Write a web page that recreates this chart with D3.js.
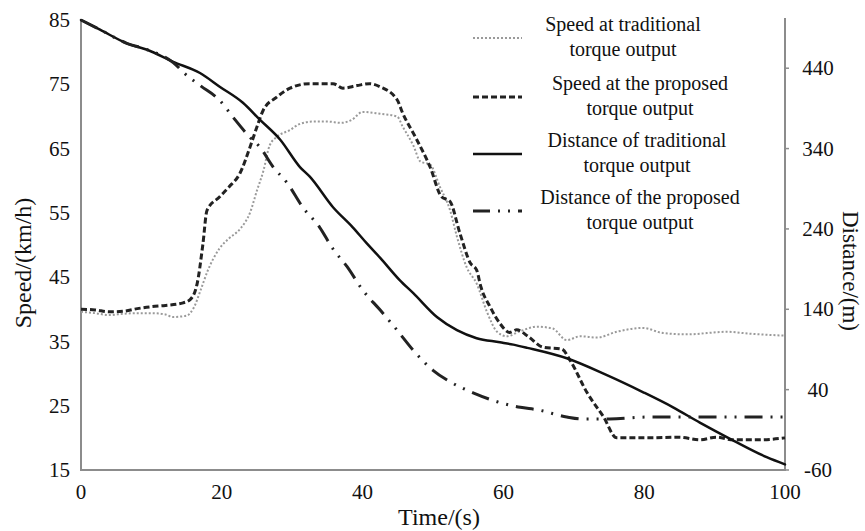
<!DOCTYPE html>
<html><head><meta charset="utf-8">
<script src="https://cdn.jsdelivr.net/npm/d3@7"></script>
<style>
html,body{margin:0;padding:0;background:#fff;}
svg text{fill:#111;}
</style></head>
<body><svg id="chart" width="865" height="531" font-family="'Liberation Serif', 'Times New Roman', Times, serif"></svg>
<script>
// ---- data ----
const timeTicks = [0, 20, 40, 60, 80, 100];
const speedTicks = [15, 25, 35, 45, 55, 65, 75, 85];
const distanceTicks = [-60, 40, 140, 240, 340, 440];

const speedTraditional = [[0,39.6],[2,39.4],[4,39.1],[6,39.3],[8,39.4],[10,39.4],[12,39.2],[13,38.8],[15,39.0],[16,40.2],[17,43],[18,46],[19.7,49.5],[21,51],[22.6,52.5],[24,55],[25,58.5],[25.9,61.5],[26.8,65.5],[27.8,66.8],[29.7,67.9],[31,68.8],[33,69.2],[35,69.2],[37,69.0],[38.5,69.5],[40,70.7],[42.5,70.4],[44.9,70.0],[45.7,68.4],[47.2,65.5],[48.2,63.0],[49.6,62.5],[51,59],[52.4,55.5],[53.4,51.3],[54.8,46.5],[56.2,44],[57.7,39.5],[59.1,36.5],[60.5,35.8],[62.4,36.6],[64.8,37.3],[67,37.0],[69,35.2],[70.9,35.8],[73.3,35.6],[76.1,36.5],[79.8,37.1],[82.7,36.3],[86,36.1],[91.8,36.5],[95,36.2],[100,35.9]];

const speedProposed = [[0,40],[2,39.9],[4,39.6],[6,39.7],[8,40.1],[10,40.4],[12,40.6],[14.5,41],[15.5,41.5],[16.5,44],[17.3,50],[17.9,55.4],[19.7,57.5],[21,59],[22.6,61.2],[24,65.2],[25,68.4],[25.9,71],[27.8,73],[29.7,74.4],[32.5,75.1],[35.8,75.1],[37.2,74.4],[39.2,74.8],[41,75.1],[42.5,74.6],[44.9,72.6],[45.7,70.5],[47.5,66.8],[49.6,62.1],[51.2,57.5],[52.4,56.8],[53.8,51.9],[55.3,47.2],[56.2,46.1],[56.8,43.5],[58.1,40.4],[59.5,37.8],[60.9,36.4],[61.9,36.8],[63.6,35.7],[65.6,34.1],[68.3,33.8],[69.5,32.0],[71.9,27],[74.2,23.3],[76.1,20],[80.8,20],[85,20.1],[87.9,19.7],[90.3,20.1],[92.6,19.7],[96.4,19.7],[100,20]];

const distanceTraditional = [[0,500],[2.7,488],[6.5,471],[9.4,463],[13.1,448],[16.9,434],[19.7,417],[23,397],[25.4,376],[28.3,351],[31.1,317],[32.5,305],[35.8,267],[38.6,242],[40.6,222],[42.5,204],[45.3,176],[47.2,160],[50.6,130],[53.4,114],[56.2,104],[59.5,99],[61.4,96],[63.4,92],[69,79],[74.7,58],[79.8,37],[84.1,18],[87.9,-1],[92.6,-23],[97.4,-44],[100,-53]];

const distanceProposed = [[0,500],[2.7,488],[6.5,471],[9.4,463],[13.1,447],[14.9,432],[17,418],[19.7,400],[21.6,379],[24,354],[25.4,342],[27.3,317],[29.3,297],[31.5,267],[33.9,242],[35.8,215],[37.8,193],[40,164],[42.5,139],[44.9,114],[47.2,89],[50,64],[52.8,48],[55.7,36],[59.1,25],[62.4,18],[64.8,15],[69,6],[71.3,3.5],[75.1,3.5],[80.8,6],[87.9,6],[100,6]];

const legendLabels = [
  ["Speed at traditional","torque output"],
  ["Speed at the proposed","torque output"],
  ["Distance of traditional","torque output"],
  ["Distance of the proposed","torque output"]
];

// ---- layout ----
const svg = d3.select("#chart");
const L = 81, R = 785, T = 20, B = 470;
const x = d3.scaleLinear().domain([0,100]).range([L,R]);
const yS = d3.scaleLinear().domain([15,85]).range([B,T]);
const yD = d3.scaleLinear().domain([-60,500]).range([B,T]);

const axisColor = "#8c8c8c";

// axes lines
svg.append("line").attr("x1",L).attr("x2",L).attr("y1",T).attr("y2",B+1).attr("stroke",axisColor).attr("stroke-width",2);
svg.append("line").attr("x1",L-1).attr("x2",R+1).attr("y1",B).attr("y2",B).attr("stroke",axisColor).attr("stroke-width",2);
svg.append("line").attr("x1",R).attr("x2",R).attr("y1",18).attr("y2",B+1).attr("stroke",axisColor).attr("stroke-width",2);

// left tick labels
svg.append("g").selectAll("text").data(speedTicks).join("text")
  .attr("x",70).attr("y",d=>yS(d)).attr("dy","0.34em")
  .attr("text-anchor","end").attr("font-size",21).text(d=>d);

// bottom tick labels
svg.append("g").selectAll("text").data(timeTicks).join("text")
  .attr("x",d=>x(d)).attr("y",499)
  .attr("text-anchor","middle").attr("font-size",21).text(d=>d);

// right ticks
svg.append("g").selectAll("line").data(distanceTicks).join("line")
  .attr("x1",R).attr("x2",R+4).attr("y1",d=>yD(d)).attr("y2",d=>yD(d))
  .attr("stroke",axisColor).attr("stroke-width",1.5);
svg.append("g").selectAll("text").data(distanceTicks).join("text")
  .attr("x",818).attr("y",d=>yD(d)).attr("dy","0.34em")
  .attr("text-anchor","middle").attr("font-size",21).text(d=>d);

// axis titles
svg.append("text").attr("transform","translate(31,263) rotate(-90)")
  .attr("text-anchor","middle").attr("font-size",24).text("Speed/(km/h)");
svg.append("text").attr("x",439).attr("y",525)
  .attr("text-anchor","middle").attr("font-size",24).text("Time/(s)");
svg.append("text").attr("transform","translate(843,271) rotate(90)")
  .attr("text-anchor","middle").attr("font-size",23).text("Distance/(m)");

// series
const styles = [
  {data:speedTraditional, y:yS, color:"#9a9a9a", w:2, dash:"2 2", cap:"butt"},
  {data:speedProposed, y:yS, color:"#222", w:3, dash:"6 3", cap:"butt"},
  {data:distanceTraditional, y:yD, color:"#111", w:2.5, dash:null, cap:"round"},
  {data:distanceProposed, y:yD, color:"#222", w:3, dash:"18 8 2 8 2 8", cap:"butt"}
];
styles.forEach(s=>{
  const line = d3.line().x(d=>x(d[0])).y(d=>s.y(d[1])).curve(d3.curveMonotoneX);
  svg.append("path").datum(s.data).attr("d",line)
    .attr("fill","none").attr("stroke",s.color).attr("stroke-width",s.w)
    .attr("stroke-dasharray",s.dash).attr("stroke-linecap",s.cap)
    .attr("stroke-linejoin","round");
});

// legend
const legY = [38, 97, 154, 211];
const legCx = [623, 640, 637, 640];
const legBox = svg.append("g");
legBox.append("rect").attr("x",470).attr("y",8).attr("width",290).attr("height",228).attr("fill","#fff");
styles.forEach((s,i)=>{
  legBox.append("line").attr("x1",473).attr("x2",522).attr("y1",legY[i]).attr("y2",legY[i])
    .attr("stroke",s.color).attr("stroke-width",s.w).attr("stroke-dasharray",
      i===3 ? "17 8 2 8 2 8" : s.dash);
  legBox.append("text").attr("x",legCx[i]).attr("y",legY[i]-7)
    .attr("text-anchor","middle").attr("font-size",20).text(legendLabels[i][0]);
  legBox.append("text").attr("x",legCx[i]).attr("y",legY[i]+18)
    .attr("text-anchor","middle").attr("font-size",20).text(legendLabels[i][1]);
});
</script>
</body></html>
